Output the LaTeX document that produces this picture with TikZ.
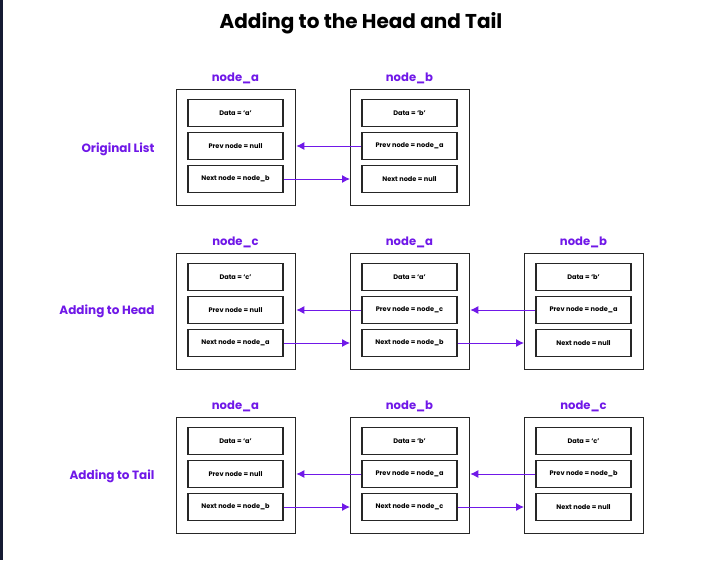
\documentclass[tikz,border=0pt]{standalone}
\usepackage{fontspec}
\setmainfont{Poppins}
\usetikzlibrary{arrows.meta}
\definecolor{llpurple}{RGB}{112,24,232}
\definecolor{llframe}{RGB}{38,38,38}
\definecolor{lledge}{RGB}{22,27,51}
\tikzset{
  outerbox/.style={draw=llframe, line width=1.3pt, minimum width=119pt, minimum height=116pt, inner sep=0pt, anchor=north west},
  fieldbox/.style={draw=llframe, line width=1.1pt, minimum width=95pt, minimum height=27pt, inner sep=0pt, font=\bfseries\fontsize{6.6}{8}\selectfont},
  nodetitle/.style={text=llpurple, font=\bfseries\fontsize{11.6}{14}\selectfont},
  rowlabel/.style={text=llpurple, font=\bfseries\fontsize{12}{14}\selectfont, anchor=east},
  headline/.style={text=black, font=\bfseries\fontsize{20}{24}\selectfont},
  link/.style={draw=llpurple, line width=1pt, -{Latex[length=8pt,width=8pt]}},
}
% name, left x, top y, title, data, prev, next
\newcommand\llnode[7]{%
  \node[outerbox] (#1) at (#2,#3) {};
  \node[nodetitle] (#1t) at (#2+59.5,#3-11) {#4};
  \node[fieldbox] (#1d) at (#2+59.5,#3+24) {Data = ‘#5’};
  \node[fieldbox] (#1p) at (#2+59.5,#3+57) {Prev node = #6};
  \node[fieldbox] (#1n) at (#2+59.5,#3+90) {Next node = #7};
}
\begin{document}
\begin{tikzpicture}[x=1pt,y=-1pt]
  \useasboundingbox (0,0) rectangle (703,560);
  \fill[white] (0,0) rectangle (703,560);
  \fill[lledge] (0,0) rectangle (2.5,560);
  \node[headline] (title) at (361,23) {Adding to the Head and Tail};
  % row 1
  \node[rowlabel] (lab1) at (158,149) {Original List};
  \llnode{ra}{176}{89}{node\_a}{a}{null}{node\_b}
  \llnode{rb}{350}{89}{node\_b}{b}{node\_a}{null}
  \draw[link] (rbp.west) -- (ra.east |- rbp.west);
  \draw[link] (ran.east) -- (rb.west |- ran.east);
  % row 2
  \node[rowlabel] (lab2) at (158,311) {Adding to Head};
  \llnode{hc}{176}{253}{node\_c}{c}{null}{node\_a}
  \llnode{ha}{350}{253}{node\_a}{a}{node\_c}{node\_b}
  \llnode{hb}{524}{253}{node\_b}{b}{node\_a}{null}
  \draw[link] (hap.west) -- (hc.east |- hap.west);
  \draw[link] (hbp.west) -- (ha.east |- hbp.west);
  \draw[link] (hcn.east) -- (ha.west |- hcn.east);
  \draw[link] (han.east) -- (hb.west |- han.east);
  % row 3
  \node[rowlabel] (lab3) at (158,476) {Adding to Tail};
  \llnode{ta}{176}{417}{node\_a}{a}{null}{node\_b}
  \llnode{tb}{350}{417}{node\_b}{b}{node\_a}{node\_c}
  \llnode{tc}{524}{417}{node\_c}{c}{node\_b}{null}
  \draw[link] (tbp.west) -- (ta.east |- tbp.west);
  \draw[link] (tcp.west) -- (tb.east |- tcp.west);
  \draw[link] (tan.east) -- (tb.west |- tan.east);
  \draw[link] (tbn.east) -- (tc.west |- tbn.east);
\end{tikzpicture}
\end{document}
